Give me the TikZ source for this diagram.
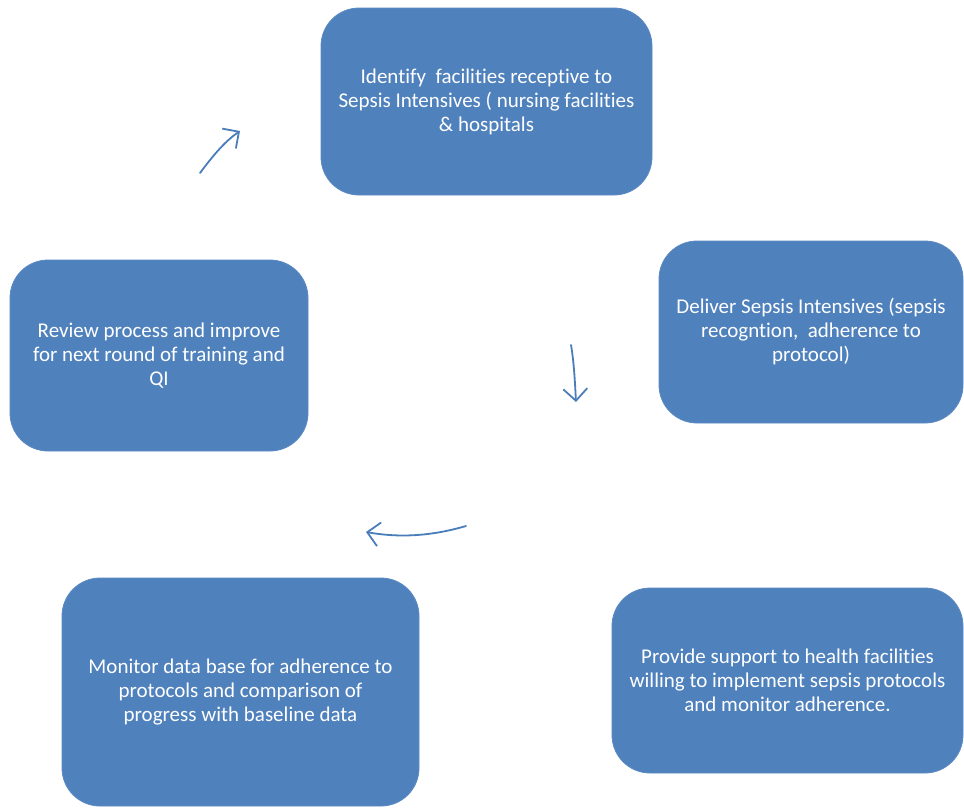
\documentclass[tikz,border=0pt]{standalone}
\usepackage{fontspec}
\setmainfont{Carlito}[Ligatures=NoCommon]
\usetikzlibrary{arrows.meta}
\definecolor{boxblue}{HTML}{4F81BD}
\definecolor{boxedge}{HTML}{5B8AC3}
\definecolor{arrowblue}{HTML}{4A7EBB}
\begin{document}
\begin{tikzpicture}[x=1pt,y=-1pt,
  stagebox/.style={draw=boxedge, line width=0.8pt, fill=boxblue, rounded corners=38pt,
    text=white, align=center, font=\fontsize{21}{24}\selectfont, inner sep=0pt},
  flow/.style={draw=arrowblue, line width=1.8pt, line cap=round,
    -{Straight Barb[length=12pt,width=24pt,line width=1.8pt]}}]
\useasboundingbox (0,0) rectangle (964,807);
\fill[white] (0,0) rectangle (964,807);

\node[stagebox, minimum width=331pt, minimum height=187pt] (identify) at (486.5,101.5)
  {Identify\ \ facilities receptive to\\Sepsis Intensives ( nursing facilities\\\& hospitals};
\node[stagebox, minimum width=304pt, minimum height=182pt] (deliver) at (811,332)
  {Deliver Sepsis Intensives (sepsis\\recogntion,\ \ adherence to\\protocol)};
\node[stagebox, minimum width=298pt, minimum height=191pt] (review) at (159,355.5)
  {Review process and improve\\for next round of training and\\QI};
\node[stagebox, minimum width=357pt, minimum height=228pt] (monitor) at (240.5,692)
  {Monitor data base for adherence to\\protocols and comparison of\\progress with baseline data};
\node[stagebox, minimum width=351pt, minimum height=185pt] (support) at (787.5,680.5)
  {Provide support to health facilities\\willing to implement sepsis protocols\\and monitor adherence.};

% free-standing cycle arrows
\coordinate (a1s) at (200,173);
\coordinate (a1e) at (240,131);
\coordinate (a2s) at (571,345);
\coordinate (a2e) at (576,402);
\coordinate (a3s) at (466,526);
\coordinate (a3e) at (366,532);
\draw[flow] (a1s) .. controls (212,157) and (224,142) .. (a1e);
\draw[flow] (a2s) .. controls (574,362) and (575,383) .. (a2e);
\draw[flow] (a3s) .. controls (432,536) and (400,538) .. (a3e);
\end{tikzpicture}
\end{document}
